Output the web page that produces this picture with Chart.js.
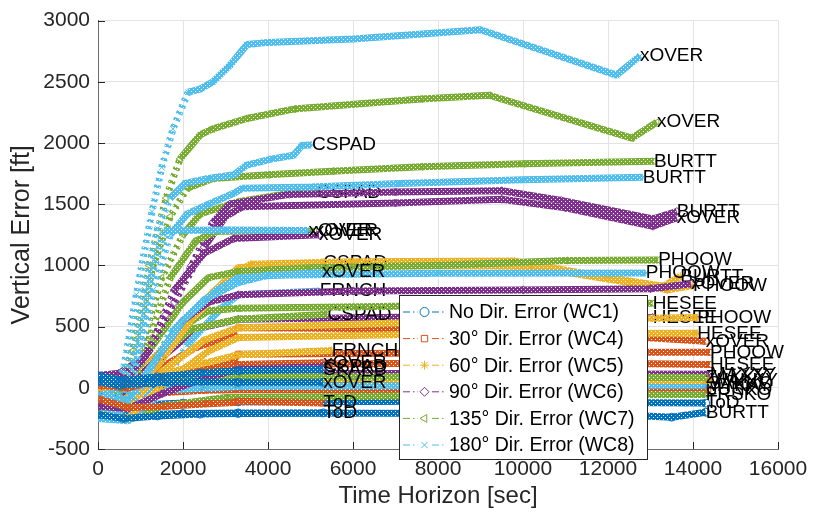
<!DOCTYPE html>
<html>
<head>
<meta charset="utf-8">
<script src="https://cdn.jsdelivr.net/npm/chart.js@4.4.1/dist/chart.umd.min.js"></script>
<style>
  html, body { margin: 0; padding: 0; background: #ffffff; }
  #wrap { width: 817px; height: 515px; }
</style>
</head>
<body>
<div id="wrap"><canvas id="c" width="817" height="515"></canvas></div>
<script>
// Vertical error of the predicted trajectories versus time horizon,
// grouped by wind-direction error case. Each trajectory ends at a named fix.

const caseNames = ['No Dir. Error (WC1)', '30° Dir. Error (WC4)', '60° Dir. Error (WC5)',
                   '90° Dir. Error (WC6)', '135° Dir. Error (WC7)', '180° Dir. Error (WC8)'];

const xTicks = [0, 2000, 4000, 6000, 8000, 10000, 12000, 14000, 16000];
const yTicks = [-500, 0, 500, 1000, 1500, 2000, 2500, 3000];

// WC1 – no direction error
const wc1Time = [
  [0, 400, 900, 1500, 2500, 3300, 6000, 10000, 14350],
  [0, 500, 1000, 2000, 3300, 8000, 12000, 14300],
  [0, 500, 1000, 2000, 3300, 10000, 12500, 13500, 14300],
  [0, 500, 1200, 2200, 3300, 5300],
  [0, 600, 1400, 2400, 3300, 5300],
  [0, 600, 1400, 2400, 3300, 5300]
];
const wc1Err = [
  [0, -30, 10, 30, 40, 45, 40, 35, 30],
  [-100, -150, -140, -125, -115, -110, -120, -125],
  [-180, -230, -220, -210, -205, -210, -225, -240, -200],
  [50, 20, 40, 50, 45, 45],
  [100, 60, 90, 120, 140, 150],
  [-220, -250, -230, -215, -210, -205]
];
const wc1Fix = ['SAKKO', 'ToD', 'BURTT', 'xOVER', 'SKAKB', 'ToD'];

// WC4 – 30° direction error
const wc4Time = [
  [0, 600, 1400, 2300, 3200, 3300, 8000, 12000, 14300],
  [0, 600, 1400, 2300, 3200, 3300, 8000, 12000, 14400],
  [0, 700, 1500, 2400, 3300, 8000, 12000, 14400],
  [0, 700, 1600, 2600, 3300, 5300],
  [0, 700, 1600, 2600, 3200, 3300, 5300],
  [0, 700, 1500, 2500, 3300, 9000, 14350]
];
const wc4Err = [
  [0, -20, 150, 330, 430, 490, 480, 430, 380],
  [-60, -80, 80, 180, 230, 275, 285, 290, 290],
  [40, 30, 90, 150, 190, 200, 200, 190],
  [20, 0, 80, 150, 190, 205],
  [-90, -160, -150, -130, -120, -110, -125],
  [-30, -60, -40, -20, -15, -20, -20]
];
const wc4Fix = ['xOVER', 'PHOOW', 'HESEE', 'xOVER', 'ToD', 'JUNKO'];

// WC5 – 60° direction error
const wc5Time = [
  [0, 600, 1300, 2000, 2700, 3300, 3600, 6000, 9800, 12000, 13300, 13700],
  [0, 600, 1400, 2200, 3000, 3300, 4000, 9000, 10200, 12500, 13400, 14000],
  [0, 600, 1500, 2600, 3300, 5300],
  [0, 700, 1500, 2500, 3300, 8000, 14100],
  [0, 700, 1600, 2600, 3300, 8000, 14100],
  [0, 700, 1500, 2500, 3300, 5500],
  [0, 700, 1500, 2500, 3300, 9000, 14400]
];
const wc5Err = [
  [0, -20, 230, 520, 780, 950, 1010, 1030, 1035, 900, 830, 910],
  [-50, -80, 180, 560, 830, 930, 990, 1000, 990, 860, 800, 835],
  [20, 0, 300, 740, 980, 1025],
  [-100, -150, 130, 390, 490, 540, 575],
  [-200, -250, 50, 300, 410, 440, 445],
  [0, 20, 110, 200, 270, 305],
  [60, 30, 60, 70, 75, 70, 60]
];
const wc5Fix = ['BURTT', 'PHOOW', 'CSPAD', 'PHOOW', 'HESEE', 'FRNCH', 'WAKKY'];

// WC6 – 90° direction error
const wc6Time = [
  [0, 500, 1000, 1600, 2200, 2700, 3100, 4500, 7000, 9500, 10900, 13060, 13620],
  [0, 500, 1100, 1800, 2500, 3000, 3400, 7000, 9500, 11000, 13060, 13620],
  [0, 600, 1200, 1800, 2500, 3200, 5200],
  [0, 600, 1300, 2000, 2600, 3300, 6000, 10000, 13000, 13950],
  [0, 700, 1500, 2500, 3300, 5300],
  [0, 700, 1500, 2300, 3300, 8000, 13050],
  [0, 600, 1500, 2500, 3300, 9000, 14400]
];
const wc6Err = [
  [50, 100, 200, 600, 1000, 1350, 1500, 1580, 1600, 1610, 1530, 1380, 1440],
  [100, 120, 250, 700, 1150, 1400, 1480, 1510, 1540, 1470, 1320, 1390],
  [0, 40, 300, 800, 1100, 1220, 1250],
  [-50, -30, 200, 550, 700, 760, 790, 800, 810, 850],
  [-150, -170, -50, 80, 150, 175],
  [0, 30, 250, 480, 560, 580, 575],
  [100, 110, 100, 110, 120, 115, 110]
];
const wc6Fix = ['BURTT', 'xOVER', 'xOVER', 'xOVER', 'CSPAD', 'HESEE', 'MAXXY'];

// WC7 – 135° direction error
const wc7Time = [
  [0, 500, 800, 1200, 1600, 1930, 2400, 2700, 3500, 4600, 7600, 9200, 12560, 13150],
  [0, 500, 900, 1300, 1700, 2100, 2700, 4000, 5500, 7600, 10000, 13080],
  [0, 600, 1000, 1500, 2000, 2400, 3300, 4700, 5150],
  [0, 700, 1200, 1700, 2300, 2800, 5100],
  [0, 600, 1200, 2000, 2600, 3300, 5000, 8000, 11000, 13180],
  [0, 600, 1200, 2000, 2600, 3300, 8000, 13050],
  [0, 700, 1400, 2200, 3300, 5400],
  [0, 800, 2000, 3500, 9000, 14300],
  [0, 800, 1500, 3000, 9000, 14300]
];
const wc7Err = [
  [-100, -50, 300, 1000, 1550, 1870, 2066, 2115, 2200, 2277, 2360, 2390, 2040, 2170],
  [-50, 0, 400, 1000, 1400, 1630, 1710, 1740, 1770, 1806, 1830, 1850],
  [-150, -100, 300, 900, 1250, 1420, 1520, 1600, 1595],
  [-200, -150, 400, 900, 1200, 1280, 1280],
  [0, 50, 300, 700, 900, 950, 980, 1000, 1040, 1045],
  [50, 20, 200, 500, 630, 650, 670, 690],
  [-100, -50, 250, 480, 560, 600],
  [0, 30, 80, 90, 90, 85],
  [-200, -250, -150, -80, -60, -55]
];
const wc7Fix = ['xOVER', 'BURTT', 'CSPAD', 'xOVER', 'PHOOW', 'HESEE', 'CSPAD', 'ZAKKY', 'FRSKO'];

// WC8 – 180° direction error
const wc8Time = [
  [0, 300, 600, 900, 1270, 1500, 1765, 2118, 2400, 2706, 3106, 3506, 4000, 6000, 9000, 12200, 12750],
  [0, 400, 800, 1100, 1400, 1700, 2050, 2600, 3200, 3500, 4100, 4600, 4800, 5035],
  [0, 500, 900, 1300, 1700, 2100, 2600, 3200, 3400, 5000, 7100, 10000, 12820],
  [0, 500, 900, 1250, 1550, 3000, 4950],
  [0, 600, 1000, 1700, 2500, 3300, 4000, 8000, 12890],
  [0, 700, 1200, 2000, 2800, 3300, 5270],
  [0, 700, 1300, 2100, 2900, 3300, 5220],
  [0, 800, 1500, 3300, 9000, 14300]
];
const wc8Err = [
  [0, -30, 150, 760, 1440, 1800, 2115, 2415, 2440, 2500, 2635, 2805, 2822, 2850, 2925, 2555, 2710],
  [-50, -100, 200, 800, 1300, 1550, 1670, 1710, 1740, 1820, 1870, 1900, 1980, 1985],
  [-100, -150, 150, 800, 1250, 1420, 1500, 1590, 1630, 1640, 1670, 1700, 1720],
  [-150, -200, 200, 900, 1285, 1290, 1285],
  [-200, -250, 0, 450, 720, 860, 920, 935, 937],
  [-50, -100, 150, 550, 800, 900, 945],
  [-250, -270, -100, 350, 650, 760, 790],
  [-20, -60, -20, 10, 20, 20]
];
const wc8Fix = ['xOVER', 'CSPAD', 'BURTT', 'xOVER', 'PHOOW', 'xOVER', 'FRNCH', 'MYKAY'];

// plotting sequence: [case index, trajectory index]
const plotSequence = [
  [0, 2], [0, 1], [0, 0], [1, 0], [1, 1], [1, 2], [1, 5], [4, 8], [5, 7], [3, 6], [2, 6], [4, 7],
  [3, 5], [5, 6], [4, 6], [4, 2], [2, 2],
  [2, 3], [2, 4], [4, 5], [2, 0], [2, 1], [3, 3], [4, 4], [5, 4],
  [3, 0], [3, 1], [4, 0], [4, 1], [5, 2], [5, 0],
  [4, 3], [3, 2], [5, 3], [5, 1], [5, 5], [2, 5], [1, 3], [3, 4], [0, 4], [0, 3], [1, 4], [0, 5]
];

const caseTimes = [wc1Time, wc4Time, wc5Time, wc6Time, wc7Time, wc8Time];
const caseErrs = [wc1Err, wc4Err, wc5Err, wc6Err, wc7Err, wc8Err];
const caseFixes = [wc1Fix, wc4Fix, wc5Fix, wc6Fix, wc7Fix, wc8Fix];

const caseColors = ['#0072BD', '#D95319', '#EDB120', '#7E2F8E', '#77AC30', '#4DBEEE'];
const caseMarkers = ['circle', 'rect', 'star', 'rectRot', 'triangle', 'crossRot'];
const caseMarkerRot = [0, 0, 0, 0, -90, 0];

const FONT = "'Liberation Sans', Arial, Helvetica, sans-serif";
const canvas = document.getElementById('c');
const ctx = canvas.getContext('2d');

// speckled stroke so that densely marked bands look like chains of markers
function bandPattern(color) {
  const t = document.createElement('canvas');
  t.width = 4; t.height = 4;
  const g = t.getContext('2d');
  g.fillStyle = color;
  g.fillRect(0, 0, 4, 4);
  g.clearRect(1, 1, 1, 1);
  g.clearRect(3, 3, 1, 1);
  return ctx.createPattern(t, 'repeat');
}
const casePatterns = caseColors.map(bandPattern);

// on steep climbs the samples spread apart, so the band breaks into separate marks
function steepDash(seg) {
  const dx = Math.abs(seg.p1.x - seg.p0.x);
  const dy = Math.abs(seg.p1.y - seg.p0.y);
  return dy > 1.6 * dx ? [3, 4] : undefined;
}

const N = plotSequence.length;
const datasets = plotSequence.map(([g, k], idx) => ({
  label: caseNames[g],
  data: caseTimes[g][k].map((t, i) => ({ x: t, y: caseErrs[g][k][i] })),
  fixName: caseFixes[g][k],
  borderColor: casePatterns[g],
  borderWidth: 7,
  borderJoinStyle: 'round',
  segment: { borderDash: steepDash },
  pointStyle: caseMarkers[g],
  pointRotation: caseMarkerRot[g],
  pointRadius: 4,
  pointBorderWidth: 1,
  pointBorderColor: caseColors[g],
  pointBackgroundColor: 'rgba(0,0,0,0)',
  tension: 0,
  fill: false,
  order: N - idx
}));

// fix names written at the end of each trajectory, right after it is drawn
const fixLabels = {
  id: 'fixLabels',
  afterDatasetDraw(chart, args) {
    const ds = chart.data.datasets[args.index];
    const pts = args.meta.data;
    const p = pts[pts.length - 1];
    const c = chart.ctx;
    c.save();
    c.font = '19px ' + FONT;
    c.fillStyle = '#000000';
    c.textAlign = 'left';
    c.textBaseline = 'middle';
    c.fillText(ds.fixName, p.x, p.y);
    c.restore();
  }
};

// inward tick marks on the left and bottom axes
const inwardTicks = {
  id: 'inwardTicks',
  beforeDatasetsDraw(chart) {
    const { ctx: c, chartArea: a, scales } = chart;
    c.save();
    c.strokeStyle = '#262626';
    c.lineWidth = 1;
    c.beginPath();
    xTicks.forEach(v => {
      const x = Math.round(scales.x.getPixelForValue(v)) + 0.5;
      c.moveTo(x, a.bottom); c.lineTo(x, a.bottom - 7);
    });
    yTicks.forEach(v => {
      const y = Math.round(scales.y.getPixelForValue(v)) + 0.5;
      c.moveTo(a.left, y); c.lineTo(a.left + 7, y);
    });
    c.stroke();
    c.restore();
  }
};

// boxed legend inside the axes, one entry per direction-error case
const caseLegend = {
  id: 'caseLegend',
  afterDraw(chart) {
    const c = chart.ctx;
    const left = 399.5, top = 295.5, w = 248, h = 164;
    c.save();
    c.fillStyle = '#ffffff';
    c.fillRect(left, top, w, h);
    c.strokeStyle = '#262626';
    c.lineWidth = 1;
    c.strokeRect(left, top, w, h);
    caseNames.forEach((name, g) => {
      const y = 312 + g * 26.6;
      c.strokeStyle = caseColors[g];
      c.lineWidth = 1;
      c.setLineDash([7, 3, 1.5, 3]);
      c.beginPath();
      c.moveTo(403, y); c.lineTo(446, y);
      c.stroke();
      c.setLineDash([]);
      c.fillStyle = '#ffffff';
      c.fillRect(418, y - 6, 13, 12);
      c.strokeStyle = caseColors[g];
      c.fillStyle = 'rgba(0,0,0,0)';
      Chart.helpers.drawPoint(c, {
        pointStyle: caseMarkers[g], rotation: caseMarkerRot[g], radius: 4.5, borderWidth: 1
      }, 424.5, y);
      c.fillStyle = '#000000';
      c.font = '19.5px ' + FONT;
      c.textAlign = 'left';
      c.textBaseline = 'middle';
      c.fillText(name, 449, y + 1);
    });
    c.restore();
  }
};

new Chart(canvas, {
  type: 'line',
  data: { datasets },
  options: {
    responsive: false,
    animation: false,
    devicePixelRatio: 1,
    layout: { padding: { top: 18, right: 39, left: 0, bottom: 0 } },
    plugins: { legend: { display: false }, tooltip: { enabled: false } },
    scales: {
      x: {
        type: 'linear', min: 0, max: 16000,
        afterBuildTicks: s => { s.ticks = xTicks.map(v => ({ value: v })); },
        afterFit: s => { s.height = 66; },
        grid: { color: '#e3e3e3', drawTicks: false },
        border: { display: true, color: '#6e6e6e', width: 1 },
        ticks: { color: '#262626', font: { family: FONT, size: 21 }, padding: 8, maxRotation: 0,
                 callback: v => String(v) },
        title: { display: true, text: 'Time Horizon [sec]', color: '#262626',
                 font: { family: FONT, size: 24 }, padding: { top: 0, bottom: 4 } }
      },
      y: {
        type: 'linear', min: -500, max: 3000,
        afterBuildTicks: s => { s.ticks = yTicks.map(v => ({ value: v })); },
        afterFit: s => { s.width = 98; },
        grid: { color: '#e3e3e3', drawTicks: false },
        border: { display: true, color: '#6e6e6e', width: 1 },
        ticks: { color: '#262626', font: { family: FONT, size: 21 }, padding: 8,
                 callback: v => String(v) },
        title: { display: true, text: 'Vertical Error [ft]', color: '#262626',
                 font: { family: FONT, size: 25 }, padding: { top: 7, bottom: 0 } }
      }
    }
  },
  plugins: [inwardTicks, fixLabels, caseLegend]
});
</script>
</body>
</html>
